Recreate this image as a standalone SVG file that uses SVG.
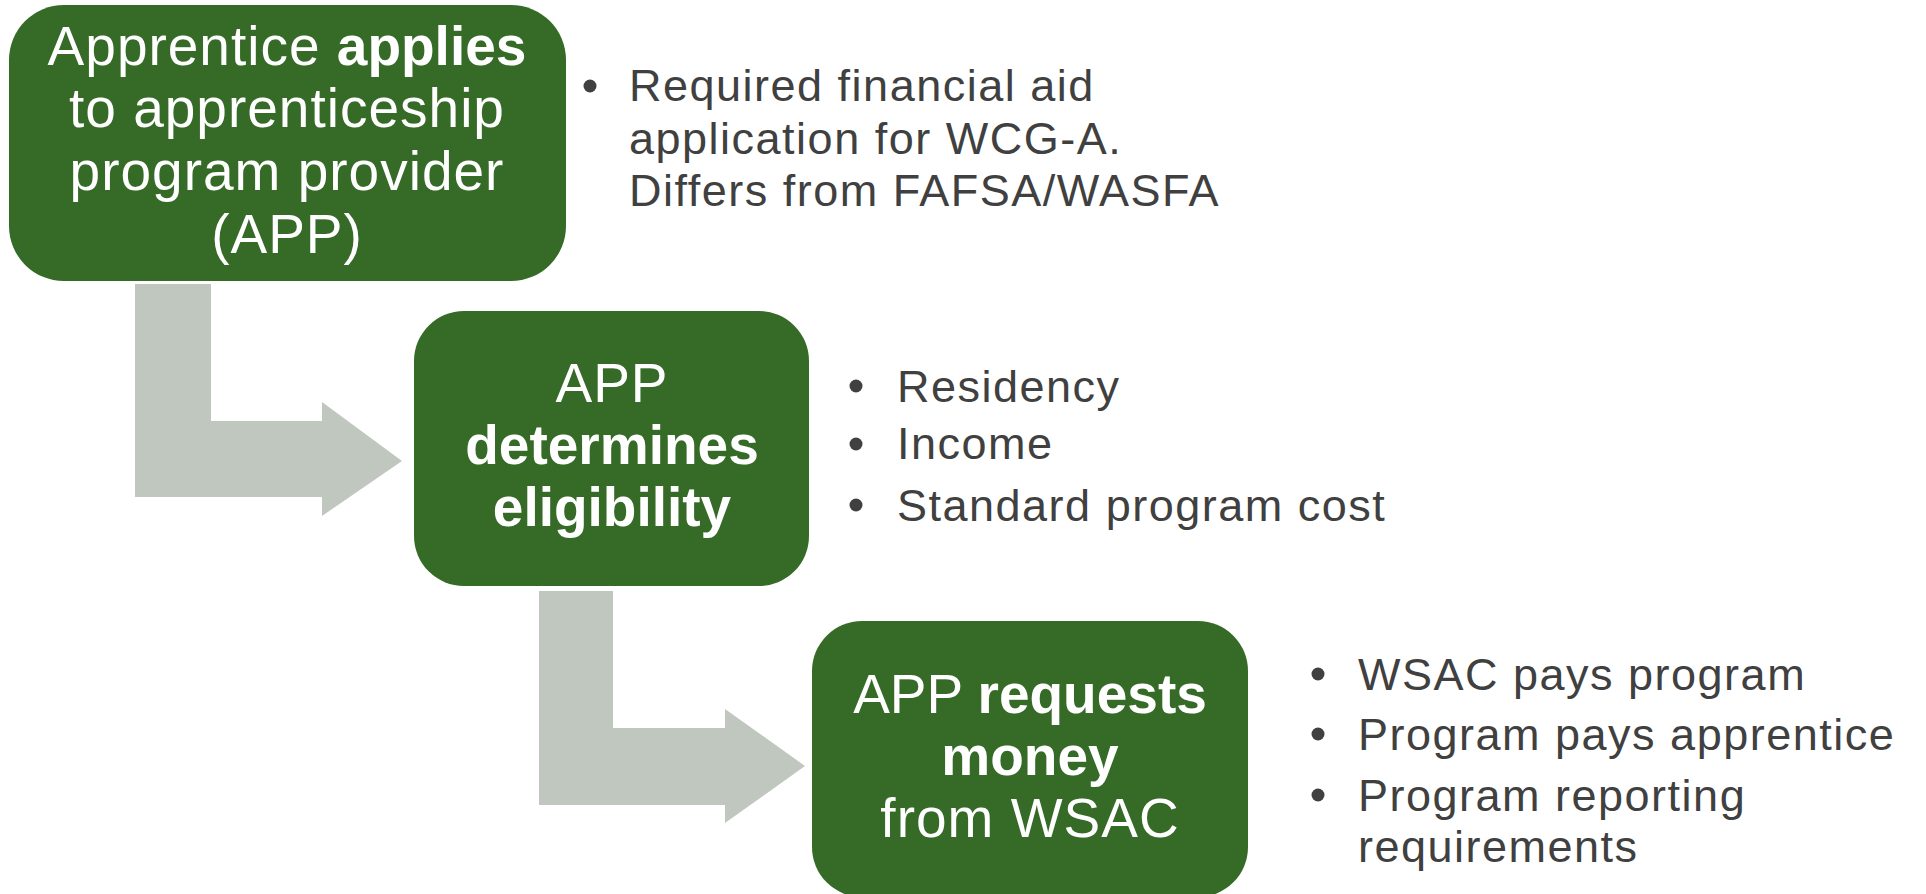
<svg xmlns="http://www.w3.org/2000/svg" width="1926" height="894" viewBox="0 0 1926 894">
<style>
.box{fill:#356a27}
.conn{fill:#c0c7bf}
text{font-variant-ligatures:none}
.bt{font-family:"Liberation Sans",Arial,sans-serif;font-size:55px;fill:#ffffff;text-anchor:middle;letter-spacing:1px}
.b{font-weight:bold;letter-spacing:0}
.lt{font-family:"Liberation Sans",Arial,sans-serif;font-size:45px;fill:#404040;letter-spacing:1.5px}
.dot{fill:#404040}
</style>
<rect width="1926" height="894" fill="#ffffff"/>
<g id="connectors">
<path class="conn" d="M135,284 H211 V421 H322 V402 L402,461 L322,516 V497 H135 Z"/>
<path class="conn" d="M539,591 H613 V728 H725 V709 L805,766 L725,823 V805 H539 Z"/>
</g>
<g id="node1">
<rect class="box" x="9" y="5" width="557" height="276" rx="55"/>
<text class="bt"><tspan x="287" y="65">Apprentice <tspan class="b">applies</tspan></tspan><tspan x="287" y="127">to apprenticeship</tspan><tspan x="287" y="190">program provider</tspan><tspan x="287" y="253">(APP)</tspan></text>
</g>
<g id="notes1">
<circle class="dot" cx="590" cy="86" r="6.5"/>
<text class="lt"><tspan x="629" y="101">Required financial aid</tspan><tspan x="629" y="154">application for WCG-A.</tspan><tspan x="629" y="206">Differs from FAFSA/WASFA</tspan></text>
</g>
<g id="node2">
<rect class="box" x="414" y="311" width="395" height="275" rx="50"/>
<text class="bt"><tspan x="612" y="402">APP</tspan><tspan class="b" x="612" y="464">determines</tspan><tspan class="b" x="612" y="526">eligibility</tspan></text>
</g>
<g id="notes2">
<circle class="dot" cx="856" cy="386" r="6.5"/>
<circle class="dot" cx="856" cy="444" r="6.5"/>
<circle class="dot" cx="856" cy="505" r="6.5"/>
<text class="lt"><tspan x="897" y="402">Residency</tspan><tspan x="897" y="459">Income</tspan><tspan x="897" y="521">Standard program cost</tspan></text>
</g>
<g id="node3">
<rect class="box" x="812" y="621" width="436" height="276" rx="50"/>
<text class="bt"><tspan x="1030" y="713" letter-spacing="0">APP <tspan class="b" letter-spacing="-1.5">requests</tspan></tspan><tspan class="b" x="1030" y="775">money</tspan><tspan x="1030" y="837">from WSAC</tspan></text>
</g>
<g id="notes3">
<circle class="dot" cx="1318" cy="674" r="6.5"/>
<circle class="dot" cx="1318" cy="734" r="6.5"/>
<circle class="dot" cx="1318" cy="795" r="6.5"/>
<text class="lt"><tspan x="1358" y="690">WSAC pays program</tspan><tspan x="1358" y="750">Program pays apprentice</tspan><tspan x="1358" y="811">Program reporting</tspan><tspan x="1358" y="862">requirements</tspan></text>
</g>
</svg>
